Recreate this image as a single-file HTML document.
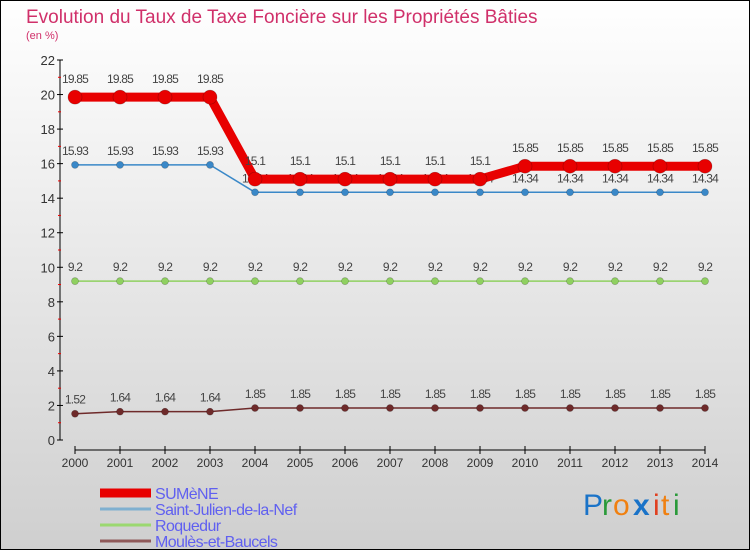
<!DOCTYPE html>
<html><head><meta charset="utf-8"><style>
html,body{margin:0;padding:0;}
body{width:750px;height:550px;overflow:hidden;font-family:"Liberation Sans",sans-serif;}
</style></head><body>
<svg id="chart" width="750" height="550" xmlns="http://www.w3.org/2000/svg">
<defs><linearGradient id="bg" x1="0" y1="0" x2="0" y2="1"><stop offset="0" stop-color="#ffffff"/><stop offset="1" stop-color="#cfcfcf"/></linearGradient></defs>
<rect x="0.5" y="0.5" width="749" height="549" fill="url(#bg)" stroke="#000"/>
<text x="26" y="23" font-size="19" fill="#d0306a">Evolution du Taux de Taxe Foncière sur les Propriétés Bâties</text>
<text x="26" y="39" font-size="11" fill="#d0306a">(en %)</text>
<g id="axes"></g>
<g id="series"></g>
<g id="legend"></g>
<g font-size="30" font-family="'Liberation Sans',sans-serif">
<text x="583" y="515" fill="#1a73c8">P</text><text x="602" y="515" fill="#2a9a3a">r</text><text x="613" y="515" fill="#f08010">o</text><text x="633" y="515" fill="#1a73c8" font-weight="bold">x</text><text x="653" y="515" fill="#e04020">i</text><text x="661" y="515" fill="#f08010">t</text><text x="673" y="515" fill="#2a9a3a">i</text>
</g>
</svg>
<script>
const years=[2000,2001,2002,2003,2004,2005,2006,2007,2008,2009,2010,2011,2012,2013,2014];
const sumene=[19.85,19.85,19.85,19.85,15.1,15.1,15.1,15.1,15.1,15.1,15.85,15.85,15.85,15.85,15.85];
const stJulien=[15.93,15.93,15.93,15.93,14.34,14.34,14.34,14.34,14.34,14.34,14.34,14.34,14.34,14.34,14.34];
const roquedur=[9.2,9.2,9.2,9.2,9.2,9.2,9.2,9.2,9.2,9.2,9.2,9.2,9.2,9.2,9.2];
const moules=[1.52,1.64,1.64,1.64,1.85,1.85,1.85,1.85,1.85,1.85,1.85,1.85,1.85,1.85,1.85];
const yTicks=[0,2,4,6,8,10,12,14,16,18,20,22];
const seriesNames=["SUMèNE","Saint-Julien-de-la-Nef","Roquedur","Moulès-et-Baucels"];

const NS="http://www.w3.org/2000/svg";
const X=i=>75+i*45;
const Y=v=>440-v*(380/22);
function mk(tag,attrs,parent){const e=document.createElementNS(NS,tag);for(const k in attrs)e.setAttribute(k,attrs[k]);parent.appendChild(e);return e;}
const axes=document.getElementById('axes'),ser=document.getElementById('series'),leg=document.getElementById('legend');

let yl=mk('line',{x1:60,y1:60,x2:60,y2:440,stroke:'#000'},axes);


yTicks.forEach(t=>{
  mk('line',{x1:57,y1:Y(t),x2:63,y2:Y(t),stroke:'#000'},axes);
  if(t<22){mk('line',{x1:58,y1:Y(t+1),x2:61,y2:Y(t+1),stroke:'#e00'},axes);}
  let tx=mk('text',{x:55,y:Y(t)+5,'font-size':13,fill:'#333','text-anchor':'end'},axes);
  tx.textContent=t;
  
  
});
let xl=mk('line',{x1:X(0),y1:450,x2:X(years.length-1),y2:450,stroke:'#000'},axes);


years.forEach((yr,i)=>{
  mk('line',{x1:X(i),y1:446,x2:X(i),y2:454,stroke:'#000'},axes);
  let tx=mk('text',{x:X(i),y:467,'font-size':12,fill:'#333','text-anchor':'middle'},axes);
  tx.textContent=yr;
  
  
});

function draw(vals,color,lw,r,name,labelDy){
  const g=mk('g',{},ser);
  
  
  mk('polyline',{points:vals.map((v,i)=>X(i)+','+Y(v)).join(' '),fill:'none',stroke:color,'stroke-width':lw,'stroke-linejoin':'round'},g);
  vals.forEach((v,i)=>{
    let c=mk('circle',{cx:X(i),cy:Y(v),r:r,fill:color,stroke:'rgba(0,0,0,0.25)','stroke-width':0.7},g);
    
    
    let t=mk('text',{x:X(i),y:Y(v)+labelDy,'font-size':12,fill:'#444','text-anchor':'middle','letter-spacing':'-0.8'},g);
    t.textContent=String(v);
  });
}
draw(roquedur,'#8fd060',1.5,3.5,'roquedur-series',-10);
draw(moules,'#6e2a2a',1.5,3.5,'moules-series',-10);
draw(stJulien,'#3a88c8',1.5,3.5,'saint-julien-series',-10);
draw(sumene,'#e80000',9,7,'sumene-series',-14);

const legColors=['#e80000','#7fb0d0','#9bd870','#8f5a5a'];
const legW=[9,3,3,3];
seriesNames.forEach((n,i)=>{
  const y=493+i*16;
  const g=mk('g',{},leg);
  
  
  mk('line',{x1:100,y1:y,x2:151,y2:y,stroke:legColors[i],'stroke-width':legW[i]},g);
  let t=mk('text',{x:155,y:y+6,'font-size':16,fill:'#6060f0','letter-spacing':'-0.6'},g);
  t.textContent=n;
});
</script>
</body></html>
